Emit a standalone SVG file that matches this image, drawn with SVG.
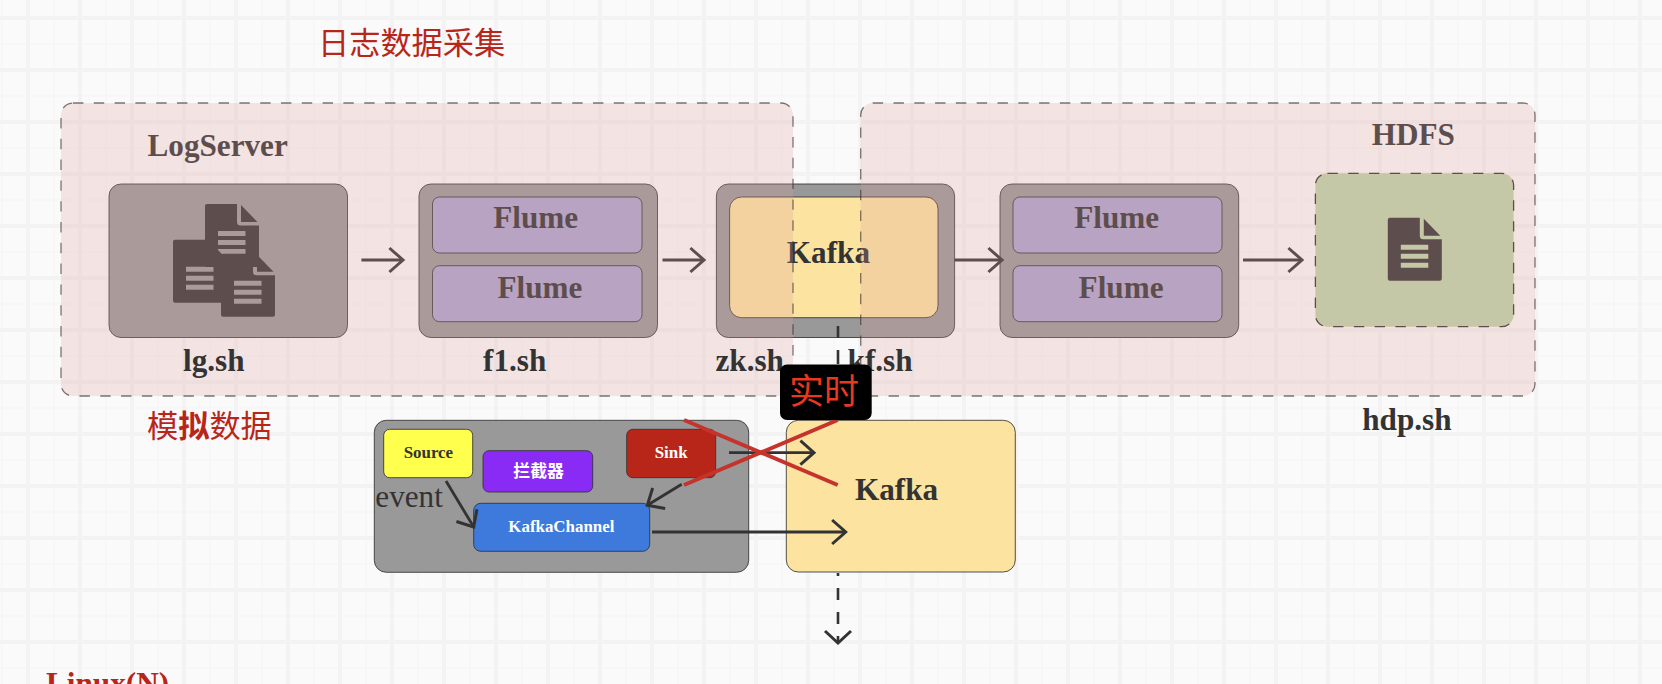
<svg xmlns="http://www.w3.org/2000/svg" width="1662" height="684" viewBox="0 0 1662 684">
<style>
.t{font-family:"Liberation Serif","Times New Roman",serif;font-weight:bold;font-size:31.2px;fill:#333}
.s{font-family:"Liberation Serif","Noto Sans CJK SC",serif;font-weight:bold;font-size:16.9px;fill:#fff}
.cn{font-family:"Noto Sans CJK SC","Liberation Sans",sans-serif;font-size:31.2px;fill:#b8261a}
.box{stroke:#333;stroke-width:1;stroke-opacity:.85}
.outer{fill:#999}
.flume{fill:#ada5ce}
.zone{fill:#de9d9d;fill-opacity:.246;stroke:#3a3030;stroke-opacity:.65;stroke-width:1.3;stroke-dasharray:10.4 10.4}
.a{fill:none;stroke:#333;stroke-width:2.8;marker-end:url(#open)}
.x{fill:none;stroke:#c5332c;stroke-width:3.9}
.doc{fill:#333;fill-rule:evenodd}
</style>
<defs>
<pattern id="grid" width="52" height="52" patternUnits="userSpaceOnUse">
<rect width="52" height="52" fill="#fafafa"/>
<path d="M2 0V52M0 44H52" stroke="#f6f6f6" stroke-width="1.3" fill="none"/>
<path d="M28 0V52M0 18H52" stroke="#f3f3f3" stroke-width="4" fill="none"/>
</pattern>
<marker id="open" markerUnits="userSpaceOnUse" markerWidth="40" markerHeight="40" refX="20" refY="20" orient="auto" viewBox="0 0 40 40">
<path d="M6.4 8L20 20L6.4 32" fill="none" stroke="#333" stroke-width="3"/>
</marker>
<path id="doc" class="doc" d="M0 2Q0 0 2 0H32V18Q32 21.5 35.500 21.500H54V61Q54 63 52 63H2Q0 63 0 61ZM13 27V32H40.500V27ZM13 36V41H40.500V36ZM13 45V50H40.500V45ZM36 1L52.500 18H36Z"/>
</defs>
<rect id="background" width="1662" height="684" fill="url(#grid)"/>

<g id="node-lg">
<rect class="box outer" x="109" y="184" width="238.500" height="153.500" rx="12"/>
<use href="#doc" x="173" y="239.700"/>
<use href="#doc" x="205" y="204"/>
<use href="#doc" x="221" y="253.700"/>
</g>
<g id="node-f1">
<rect class="box outer" x="419" y="184" width="238.500" height="153.500" rx="12"/>
<rect class="box flume" x="432.500" y="197" width="209.500" height="56" rx="7"/>
<rect class="box flume" x="432.500" y="265.700" width="209.500" height="56" rx="7"/>
<text class="t" x="493.200" y="228">Flume</text>
<text class="t" x="497.500" y="297.700">Flume</text>
</g>
<g id="node-kafka-top">
<rect class="box outer" x="716.400" y="184" width="238.200" height="153.500" rx="12"/>
<rect class="box" fill="#fce3a0" x="729.600" y="197" width="208.400" height="120.700" rx="12"/>
<text class="t" x="786.800" y="263.300">Kafka</text>
</g>
<g id="node-f2">
<rect class="box outer" x="1000" y="184" width="238.700" height="153.500" rx="12"/>
<rect class="box flume" x="1013" y="197" width="209" height="56" rx="7"/>
<rect class="box flume" x="1013" y="265.700" width="209" height="56" rx="7"/>
<text class="t" x="1074.300" y="228">Flume</text>
<text class="t" x="1078.600" y="297.700">Flume</text>
</g>
<g id="node-hdfs-file">
<rect x="1315.400" y="173.300" width="198.200" height="153.400" rx="12" fill="#bcd6a9" stroke="#333" stroke-width="1.300" stroke-dasharray="10.400 10.400"/>
<use href="#doc" x="1387.800" y="217.700"/>
</g>

<g id="node-channel-group">
<rect class="box outer" x="374.300" y="420.300" width="374.400" height="152" rx="12"/>
<text x="375.300" y="507.300" font-family="Liberation Serif, serif" font-size="31.2" fill="#333">event</text>
</g>
<g id="node-source">
<rect class="box" fill="#ffff4d" x="383.700" y="429.300" width="89" height="48.400" rx="6"/>
<text class="s" style="fill:#333" x="403.700" y="458.300">Source</text>
</g>
<g id="node-interceptor">
<rect class="box" fill="#8a2bf5" x="483" y="450.700" width="109.700" height="41.300" rx="6"/>
<text class="s" x="513.300" y="477">拦截器</text>
</g>
<g id="node-sink">
<rect class="box" fill="#b8261a" x="626.700" y="429.300" width="89" height="48.400" rx="6"/>
<text class="s" x="654.700" y="458.300">Sink</text>
</g>
<g id="node-kafkachannel">
<rect class="box" fill="#3d7adb" x="473.700" y="503.300" width="176" height="48" rx="7"/>
<text class="s" x="508.300" y="532">KafkaChannel</text>
</g>
<g id="node-kafka-bottom">
<rect class="box" fill="#fce3a0" x="786.300" y="420.300" width="229" height="151.700" rx="12"/>
<text class="t" x="855" y="500.300">Kafka</text>
</g>

<g id="connectors">
<path class="a" d="M361.400 260H403"/>
<path class="a" d="M662.500 260H704"/>
<path class="a" d="M954.600 260H1002"/>
<path class="a" d="M1243 260H1302"/>
<path class="a" d="M446 481L473.700 527"/>
<path class="a" d="M681.700 484.300L647.300 505.300"/>
<path class="a" d="M729 452.700H814"/>
<path class="a" d="M652 532H845.700"/>
<path fill="none" stroke="#333" stroke-width="2.600" d="M838 326V338M838 350V364M838 573V576M838 588V600M838 612V624M838 636V643"/>
<path fill="none" stroke="#333" stroke-width="3" d="M825 631L838 643L851 631"/>
<path class="x" d="M684 420L837.700 485"/>
<path class="x" d="M684 485L837.700 420"/>
</g>

<g id="node-logserver">
<text class="t" x="147.500" y="156">LogServer</text>
<rect class="zone" x="61" y="103" width="732" height="293" rx="12"/>
</g>
<g id="node-hdfs">
<text class="t" x="1371.700" y="145">HDFS</text>
<rect class="zone" x="860.700" y="103" width="674.300" height="293" rx="12"/>
</g>

<g id="labels">
<text class="cn" x="318" y="54">日志数据采集</text>
<text class="cn" x="147" y="437">模<tspan font-weight="bold">拟</tspan>数据</text>
<text class="t" x="183" y="370.500">lg.sh</text>
<text class="t" x="483" y="370.500">f1.sh</text>
<text class="t" x="715.500" y="370.500">zk.sh</text>
<text class="t" x="847.600" y="370.500">kf.sh</text>
<text class="t" x="1362.200" y="430">hdp.sh</text>
<text class="t" style="fill:#b8261a" x="46" y="694">Linux(N)</text>
</g>
<g id="node-realtime">
<rect x="780" y="364.500" width="91.700" height="55.500" rx="7" fill="#000"/>
<text x="789" y="404" font-family="Noto Sans CJK SC, sans-serif" font-size="35" fill="#e8391f">实时</text>
</g>
</svg>
